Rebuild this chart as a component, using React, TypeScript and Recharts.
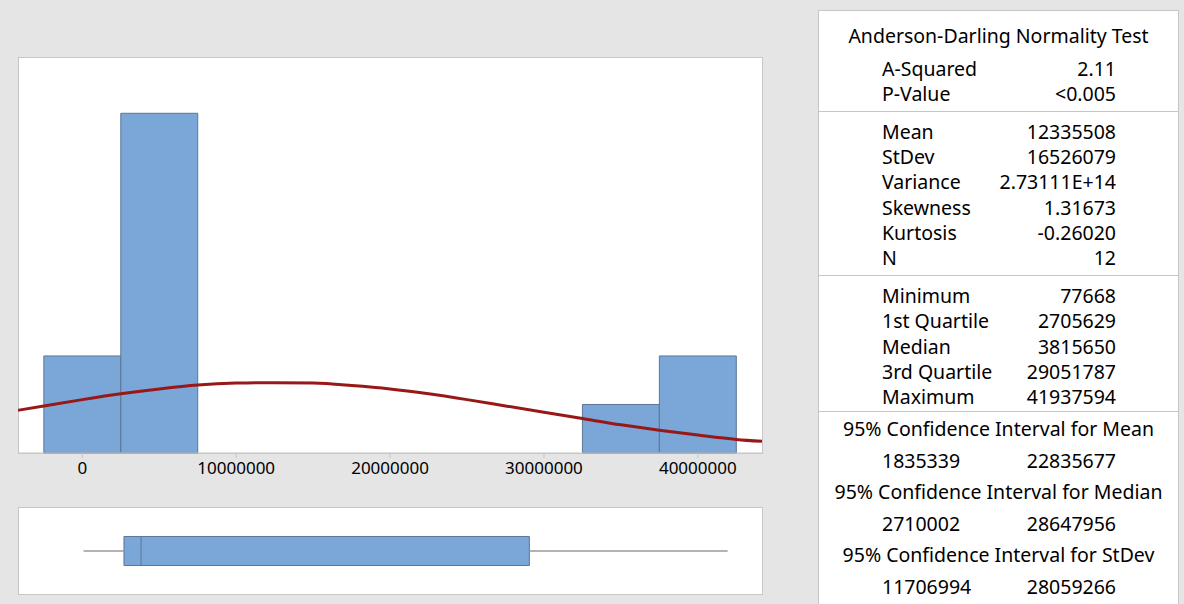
import React from "react";
import {
  ComposedChart,
  Line,
  XAxis,
  YAxis,
  ReferenceArea,
  ReferenceLine,
} from "recharts";

// histogram bins (centre, count), bin width 5,000,000
const binCenters = [0, 5000000, 35000000, 40000000];
const binCounts = [2, 7, 1, 2];
const binWidth = 5000000;

// fitted normal curve (count scale)
const curveX = [
  -4180000, -2500000, 0, 2500000, 5000000, 7500000, 10000000, 12500000,
  15000000, 17500000, 20000000, 22500000, 25000000, 27500000, 30000000,
  32500000, 35000000, 37500000, 40000000, 42500000, 44170000,
];
const curveY = [
  0.88, 0.97, 1.1, 1.22, 1.32, 1.4, 1.44, 1.45, 1.44, 1.39, 1.32, 1.22, 1.1,
  0.97, 0.84, 0.71, 0.58, 0.47, 0.37, 0.28, 0.24,
];

const xTicks = [0, 10000000, 20000000, 30000000, 40000000];
const xDomain = [-4180000, 44170000];

// box plot summary
const boxMin = 77668;
const boxQ1 = 2705629;
const boxMedian = 3815650;
const boxQ3 = 29051787;
const boxMax = 41937594;

const testRows = [
  ["A-Squared", "2.11"],
  ["P-Value", "<0.005"],
];
const momentRows = [
  ["Mean", "12335508"],
  ["StDev", "16526079"],
  ["Variance", "2.73111E+14"],
  ["Skewness", "1.31673"],
  ["Kurtosis", "-0.26020"],
  ["N", "12"],
];
const quantileRows = [
  ["Minimum", "77668"],
  ["1st Quartile", "2705629"],
  ["Median", "3815650"],
  ["3rd Quartile", "29051787"],
  ["Maximum", "41937594"],
];
const ciRows = [
  ["95% Confidence Interval for Mean", "1835339", "22835677"],
  ["95% Confidence Interval for Median", "2710002", "28647956"],
  ["95% Confidence Interval for StDev", "11706994", "28059266"],
];

const curveData = curveX.map((x, i) => ({ x, y: curveY[i] }));

const BAR_FILL = "#7aa6d8";
const BAR_STROKE = "#5d7696";
const FRAME = "#c6c6c6";
const FONT = "'Noto Sans', 'Open Sans', sans-serif";

const cell: React.CSSProperties = {
  position: "absolute",
  lineHeight: "24px",
  whiteSpace: "nowrap",
};

function Row({ top, label, value }: { top: number; label: string; value: string }) {
  return (
    <>
      <div style={{ ...cell, left: 882, top }}>{label}</div>
      <div style={{ ...cell, right: 1184 - 1116, top, textAlign: "right" }}>{value}</div>
    </>
  );
}

function Centered({ top, text }: { top: number; text: string }) {
  return (
    <div style={{ ...cell, left: 818, width: 361, top, textAlign: "center" }}>{text}</div>
  );
}

function Rule({ y }: { y: number }) {
  return (
    <div
      style={{
        position: "absolute",
        left: 818,
        width: 361,
        top: y,
        height: 1,
        background: FRAME,
      }}
    />
  );
}

export default function App() {
  return (
    <div
      style={{
        position: "absolute",
        left: 0,
        top: 0,
        width: 1184,
        height: 604,
        background: "#e5e5e5",
        overflow: "hidden",
        fontFamily: FONT,
        color: "#000",
      }}
    >
      {/* histogram frame */}
      <div
        style={{
          position: "absolute",
          left: 18,
          top: 57,
          width: 745,
          height: 397,
          background: "#fff",
          border: `1px solid ${FRAME}`,
          boxSizing: "border-box",
        }}
      />
      <div style={{ position: "absolute", left: 0, top: 0 }}>
        <ComposedChart
          width={800}
          height={490}
          data={curveData}
          margin={{ top: 57, left: 18, right: 38, bottom: 7 }}
        >
          <XAxis
            dataKey="x"
            type="number"
            domain={xDomain}
            ticks={xTicks}
            allowDataOverflow
            height={30}
            tickSize={5}
            tickMargin={4}
            stroke={FRAME}
            tick={{ fill: "#000", fontSize: 17, fontFamily: FONT }}
          />
          <YAxis type="number" domain={[0, 8.16]} hide allowDataOverflow />
          {binCenters.map((c, i) => (
            <ReferenceArea
              key={i}
              x1={c - binWidth / 2}
              x2={c + binWidth / 2}
              y1={0}
              y2={binCounts[i]}
              fill={BAR_FILL}
              fillOpacity={1}
              stroke={BAR_STROKE}
              strokeWidth={1}
            />
          ))}
          <Line
            dataKey="y"
            type="monotone"
            stroke="#981818"
            strokeWidth={3}
            dot={false}
            isAnimationActive={false}
          />
        </ComposedChart>
      </div>

      {/* box plot frame */}
      <div
        style={{
          position: "absolute",
          left: 18,
          top: 507,
          width: 745,
          height: 88,
          background: "#fff",
          border: `1px solid ${FRAME}`,
          boxSizing: "border-box",
        }}
      />
      <div style={{ position: "absolute", left: 0, top: 507 }}>
        <ComposedChart
          width={800}
          height={88}
          data={curveData}
          margin={{ top: 0, left: 18, right: 38, bottom: 0 }}
        >
          <XAxis dataKey="x" type="number" domain={xDomain} hide allowDataOverflow />
          <YAxis type="number" domain={[0, 1]} hide allowDataOverflow />
          <ReferenceLine
            segment={[
              { x: boxMin, y: 0.5 },
              { x: boxQ1, y: 0.5 },
            ]}
            stroke="#9a9a9a"
            strokeWidth={1.5}
          />
          <ReferenceLine
            segment={[
              { x: boxQ3, y: 0.5 },
              { x: boxMax, y: 0.5 },
            ]}
            stroke="#9a9a9a"
            strokeWidth={1.5}
          />
          <ReferenceArea
            x1={boxQ1}
            x2={boxQ3}
            y1={0.335}
            y2={0.665}
            fill={BAR_FILL}
            fillOpacity={1}
            stroke={BAR_STROKE}
            strokeWidth={1}
          />
          <ReferenceLine
            segment={[
              { x: boxMedian, y: 0.335 },
              { x: boxMedian, y: 0.665 },
            ]}
            stroke={BAR_STROKE}
            strokeWidth={1}
          />
          <Line dataKey="y" stroke="none" dot={false} isAnimationActive={false} />
        </ComposedChart>
      </div>

      {/* statistics panel */}
      <div
        style={{
          position: "absolute",
          left: 818,
          top: 10,
          width: 361,
          height: 600,
          background: "#fff",
          border: `1px solid ${FRAME}`,
          boxSizing: "border-box",
        }}
      />
      <div
        style={{
          position: "absolute",
          left: 0,
          top: 0,
          width: 1184,
          height: 604,
          fontSize: 19.5,
        }}
      >
        <Centered top={24} text="Anderson-Darling Normality Test" />
        {testRows.map((r, i) => (
          <Row key={r[0]} top={57 + i * 25} label={r[0]} value={r[1]} />
        ))}
        <Rule y={111} />
        {momentRows.map((r, i) => (
          <Row key={r[0]} top={120 + i * 25.2} label={r[0]} value={r[1]} />
        ))}
        <Rule y={275} />
        {quantileRows.map((r, i) => (
          <Row key={r[0]} top={284 + i * 25.3} label={r[0]} value={r[1]} />
        ))}
        <Rule y={411} />
        {ciRows.map((r, i) => (
          <React.Fragment key={r[0]}>
            <Centered top={417 + i * 63} text={r[0]} />
            <div style={{ ...cell, left: 882, top: 449 + i * 63 }}>{r[1]}</div>
            <div style={{ ...cell, right: 1184 - 1116, top: 449 + i * 63 }}>{r[2]}</div>
          </React.Fragment>
        ))}
      </div>
    </div>
  );
}
